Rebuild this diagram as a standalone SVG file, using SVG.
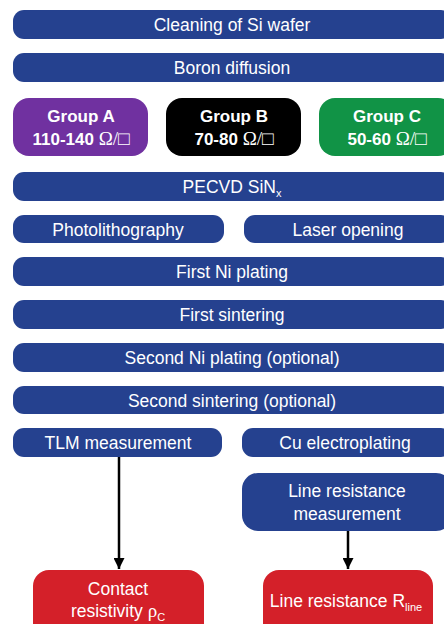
<svg xmlns="http://www.w3.org/2000/svg" width="444" height="624" viewBox="0 0 444 624">
  <defs>
    <style>
      .step { fill: #25418f; }
      .t { font-family: "Liberation Sans", Arial, sans-serif; font-size: 17.5px; fill: #ffffff; text-anchor: middle; }
      .g { font-family: "Liberation Sans", Arial, sans-serif; font-size: 17px; font-weight: bold; fill: #ffffff; text-anchor: middle; }
      .sym { font-family: "Liberation Serif", "DejaVu Serif", serif; font-weight: normal; font-size: 19px; }
      .res { fill: #d42029; }
      .wire { stroke: #000000; stroke-width: 2.5; fill: none; }
    </style>
    <marker id="head" markerWidth="11" markerHeight="11" viewBox="0 0 10 10" refX="10" refY="5" orient="auto" markerUnits="userSpaceOnUse">
      <path d="M0,0 L10,5 L0,10 Z" fill="#000000"/>
    </marker>
  </defs>
  <rect width="444" height="624" fill="#ffffff"/>

  <g id="cleaning">
    <rect class="step" x="13" y="10" width="439" height="29" rx="11"/>
    <text class="t" x="232" y="31">Cleaning of Si wafer</text>
  </g>
  <g id="boron">
    <rect class="step" x="13" y="53" width="439" height="29" rx="11"/>
    <text class="t" x="232" y="74">Boron diffusion</text>
  </g>

  <g id="groupA">
    <rect x="13" y="98" width="135" height="58" rx="16" fill="#7031a0"/>
    <text class="g" x="81" y="122">Group A</text>
    <text class="g" x="81" y="145">110-140 <tspan class="sym">Ω/□</tspan></text>
  </g>
  <g id="groupB">
    <rect x="166" y="98" width="135" height="58" rx="16" fill="#000000"/>
    <text class="g" x="234" y="122">Group B</text>
    <text class="g" x="234" y="145">70-80 <tspan class="sym">Ω/□</tspan></text>
  </g>
  <g id="groupC">
    <rect x="319" y="98" width="135" height="58" rx="16" fill="#119346"/>
    <text class="g" x="387" y="122">Group C</text>
    <text class="g" x="387" y="145">50-60 <tspan class="sym">Ω/□</tspan></text>
  </g>

  <g id="pecvd">
    <rect class="step" x="13" y="172" width="439" height="29" rx="11"/>
    <text class="t" x="232" y="193">PECVD SiN<tspan font-size="11" dy="4">x</tspan></text>
  </g>

  <g id="photolithography">
    <rect class="step" x="13" y="215" width="211" height="28" rx="11"/>
    <text class="t" x="118" y="236">Photolithography</text>
  </g>
  <g id="laser">
    <rect class="step" x="244" y="215" width="208" height="28" rx="11"/>
    <text class="t" x="348" y="236">Laser opening</text>
  </g>

  <g id="ni1">
    <rect class="step" x="13" y="257" width="439" height="29" rx="11"/>
    <text class="t" x="232" y="278">First Ni plating</text>
  </g>
  <g id="sinter1">
    <rect class="step" x="13" y="300" width="439" height="29" rx="11"/>
    <text class="t" x="232" y="321">First sintering</text>
  </g>
  <g id="ni2">
    <rect class="step" x="13" y="343" width="439" height="29" rx="11"/>
    <text class="t" x="232" y="364">Second Ni plating (optional)</text>
  </g>
  <g id="sinter2">
    <rect class="step" x="13" y="386" width="439" height="28" rx="11"/>
    <text class="t" x="232" y="407">Second sintering (optional)</text>
  </g>

  <g id="tlm">
    <rect class="step" x="13" y="428" width="209" height="29" rx="11"/>
    <text class="t" x="118" y="449">TLM measurement</text>
  </g>
  <g id="cu">
    <rect class="step" x="242" y="428" width="210" height="29" rx="11"/>
    <text class="t" x="345" y="449">Cu electroplating</text>
  </g>
  <g id="linemeas">
    <rect class="step" x="242" y="473" width="210" height="58" rx="16"/>
    <text class="t" x="347" y="497">Line resistance</text>
    <text class="t" x="347" y="520">measurement</text>
  </g>

  <g id="contact">
    <rect class="res" x="33" y="570" width="171" height="70" rx="16"/>
    <text class="t" x="118" y="595">Contact</text>
    <text class="t" x="118" y="617">resistivity <tspan class="sym">ρ</tspan><tspan font-size="11" dy="4">C</tspan></text>
  </g>
  <g id="rline">
    <rect class="res" x="263" y="570" width="170" height="70" rx="16"/>
    <text class="t" x="346" y="607">Line resistance R<tspan font-size="11" dy="4">line</tspan></text>
  </g>

  <g id="connectors">
    <line class="wire" x1="119" y1="457" x2="119" y2="569" marker-end="url(#head)"/>
    <line class="wire" x1="348" y1="531" x2="348" y2="569" marker-end="url(#head)"/>
  </g>
</svg>
